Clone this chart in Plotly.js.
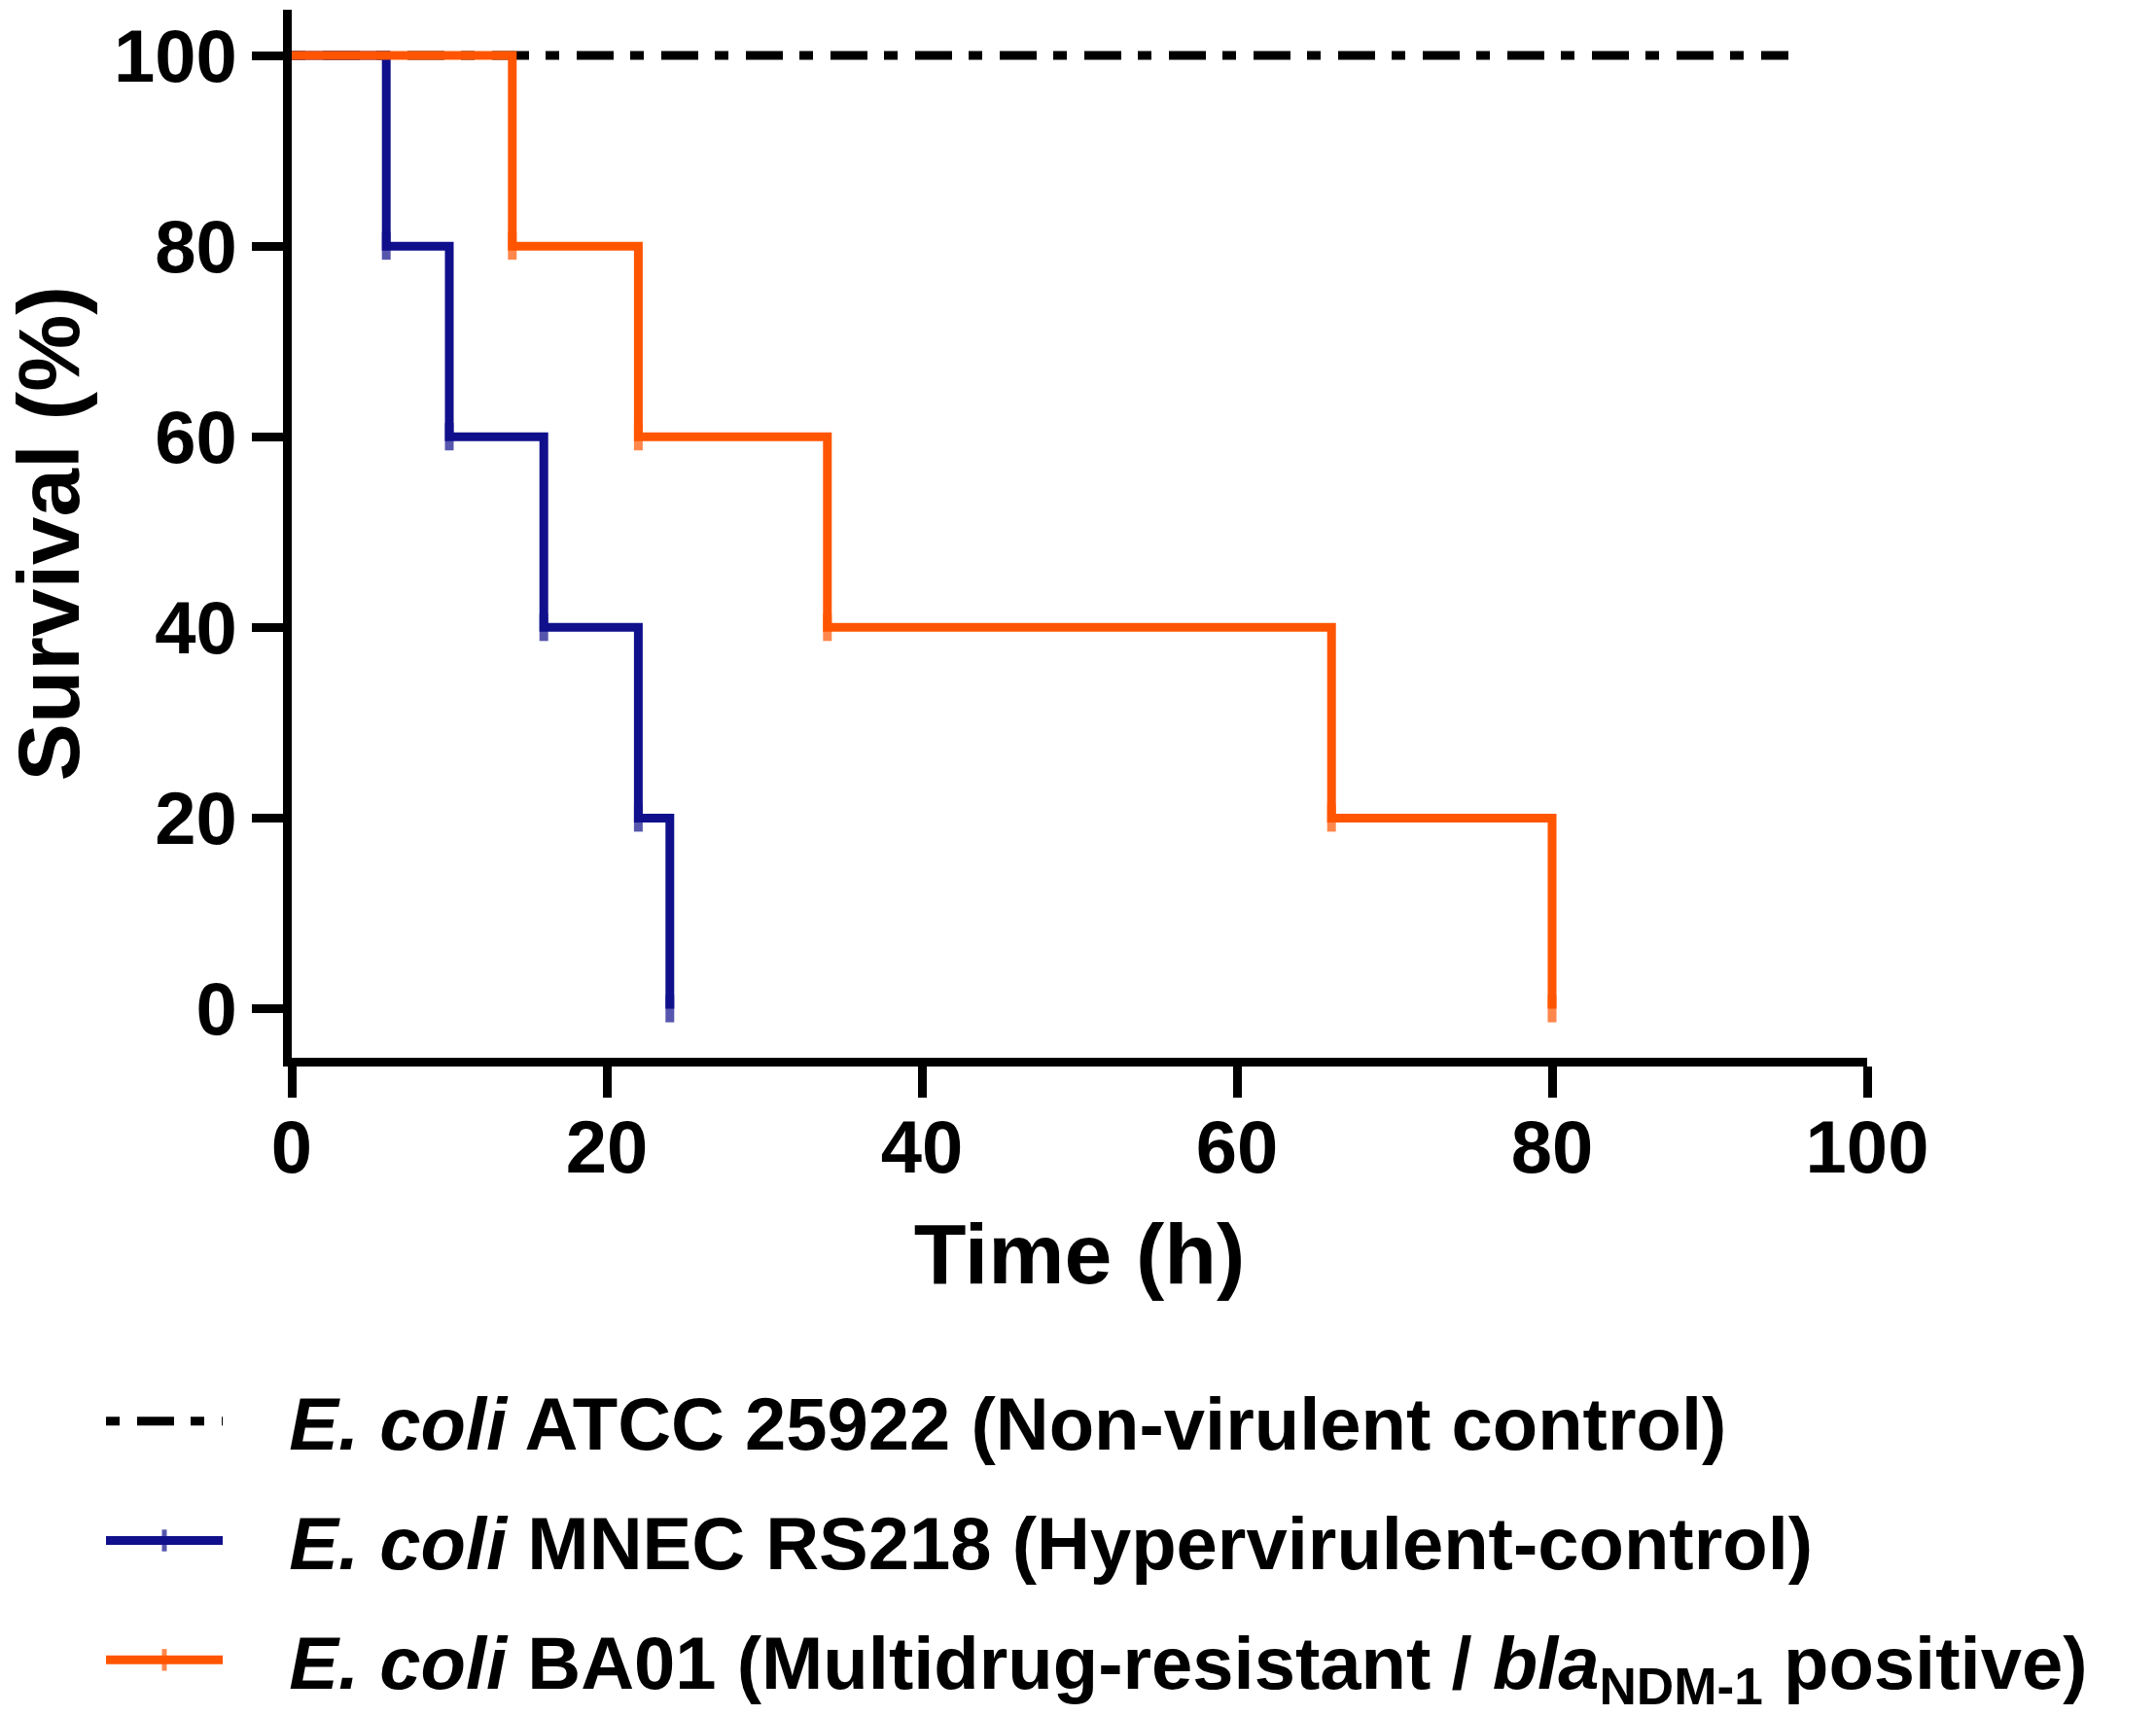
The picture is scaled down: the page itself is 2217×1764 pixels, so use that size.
<!DOCTYPE html>
<html>
<head>
<meta charset="utf-8">
<script src="https://cdn.plot.ly/plotly-3.0.1.min.js"></script>
<style>
  html, body { margin: 0; padding: 0; background: #fff; }
  #survivalChart { width: 2217px; height: 1764px; }
</style>
</head>
<body>
<div id="survivalChart"></div>
<script>
// Kaplan-Meier survival curves (step functions)
const atccTime = [0, 95];
const atccSurv = [100, 100];

const mnecTime = [0, 6, 10, 16, 22, 24];
const mnecSurv = [100, 80, 60, 40, 20, 0];

const ba01Time = [0, 14, 22, 34, 66, 80];
const ba01Surv = [100, 80, 60, 40, 20, 0];

const xTicks = [0, 20, 40, 60, 80, 100];
const yTicks = [0, 20, 40, 60, 80, 100];

const PAD = "\u00a0\u00a0\u00a0";
const seriesNames = [
  PAD + "<i>E. coli</i> ATCC 25922 (Non-virulent control)",
  PAD + "<i>E. coli</i> MNEC RS218 (Hypervirulent-control)",
  PAD + "<i>E. coli</i> BA01 (Multidrug-resistant / <i>bla</i><sub>NDM-1</sub> positive)",
];

const FONT = "Liberation Sans, Arial, sans-serif";
const W = 2217, H = 1764;

// censor ticks at each step, none at the start point
function tickSizes(arr) {
  return arr.map((d, i) => (i === 0 ? 0 : 20));
}

const traces = [
  {
    x: atccTime,
    y: atccSurv,
    name: seriesNames[0],
    legendgroup: "atcc",
    mode: "lines+markers",
    line: { color: "#000000", width: 9, shape: "hv", dash: "14px,18px,38px,17px" },
    marker: { symbol: "line-ns", size: [0, 0], line: { color: "#000000", width: 8 } },
  },
  {
    x: mnecTime,
    y: mnecSurv,
    name: seriesNames[1],
    legendgroup: "mnec",
    mode: "lines+markers",
    line: { color: "#10108C", width: 9, shape: "hv" },
    marker: { symbol: "line-ns", size: tickSizes(mnecTime), line: { color: "#10108C", width: 9 } },
  },
  {
    x: ba01Time,
    y: ba01Surv,
    name: seriesNames[2],
    legendgroup: "ba01",
    mode: "lines+markers",
    line: { color: "#FF5500", width: 9, shape: "hv" },
    marker: { symbol: "line-ns", size: tickSizes(ba01Time), line: { color: "#FF5500", width: 9 } },
  },
];

const axisCommon = {
  showline: true,
  linecolor: "#000000",
  linewidth: 9,
  showgrid: false,
  zeroline: false,
  automargin: false,
  ticks: "outside",
  ticklen: 32,
  tickwidth: 9,
  tickcolor: "#000000",
  tickfont: { family: FONT, size: 76, color: "#000000", weight: "bold" },
};

const layout = {
  width: W,
  height: H,
  margin: { l: 0, r: 0, t: 0, b: 0 },
  paper_bgcolor: "#ffffff",
  plot_bgcolor: "#ffffff",
  font: { family: FONT, color: "#000000", weight: "bold" },
  xaxis: Object.assign({}, axisCommon, {
    domain: [300 / W, 1920 / W],
    range: [0, 100],
    tickvals: xTicks,
    ticktext: xTicks.map(String),
    ticklabelstandoff: -14,
    title: { text: "Time (h)", font: { family: FONT, size: 88, weight: "bold" }, standoff: 41 },
  }),
  yaxis: Object.assign({}, axisCommon, {
    domain: [(H - 1090) / H, (H - 10) / H],
    range: [-5.1, 104.8],
    tickvals: yTicks,
    ticktext: yTicks.map(String),
    title: { text: "Survival (%)", font: { family: FONT, size: 89, weight: "bold" }, standoff: 19 },
  }),
  showlegend: true,
  legend: {
    orientation: "v",
    x: 104 / W,
    xanchor: "left",
    y: (H - 1409) / H,
    yanchor: "top",
    bgcolor: "rgba(0,0,0,0)",
    borderwidth: 0,
    itemwidth: 120,
    traceorder: "grouped",
    tracegroupgap: 21,
    font: { family: FONT, size: 76, color: "#000000", weight: "bold" },
  },
};

Plotly.newPlot("survivalChart", traces, layout, { displayModeBar: false, staticPlot: true });
</script>
</body>
</html>
